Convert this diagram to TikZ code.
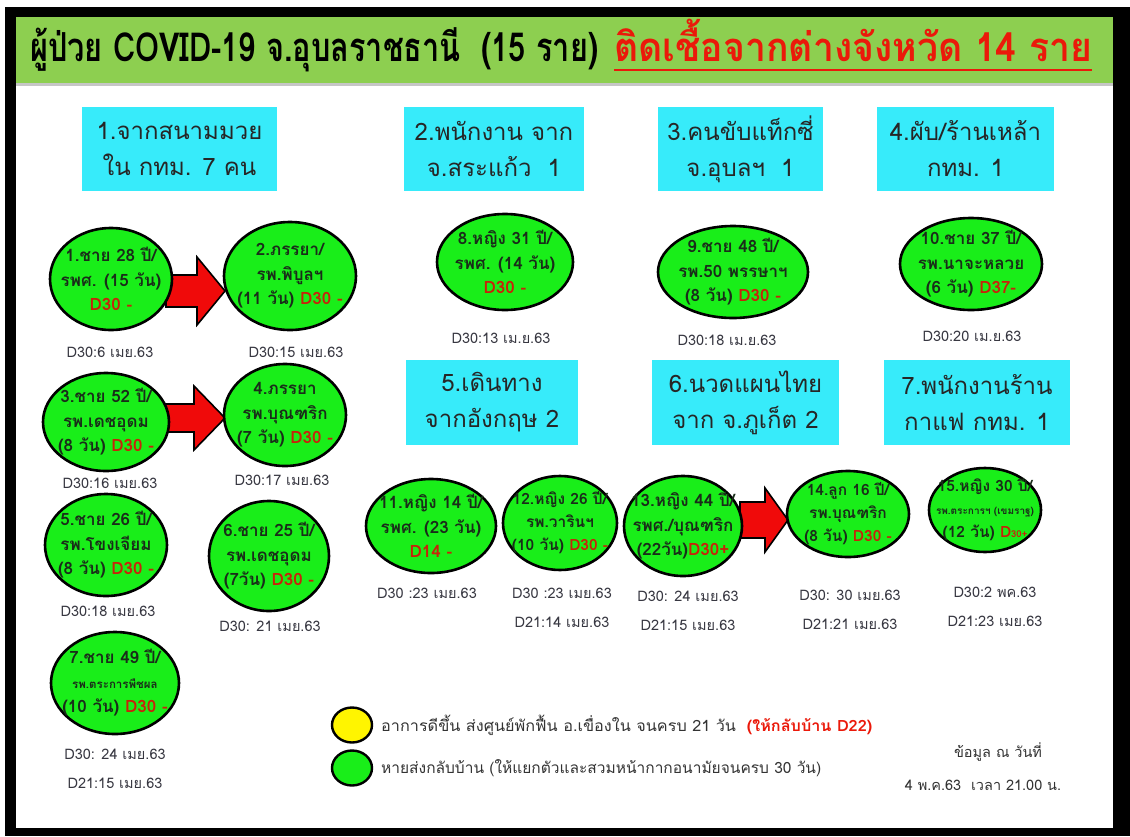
\documentclass[tikz,border=0pt]{standalone}
\usepackage{fontspec}
\usepackage{graphicx}
\setmainfont[Script=Thai]{Loma}
\usetikzlibrary{shapes.geometric,calc}
\definecolor{bandgreen}{RGB}{141,207,80}
\definecolor{boxcyan}{RGB}{55,235,250}
\definecolor{ptgreen}{RGB}{25,238,25}
\definecolor{arrred}{RGB}{240,10,10}
\definecolor{dred}{RGB}{200,35,10}
\definecolor{titlered}{RGB}{235,25,10}
\definecolor{lblgray}{RGB}{55,55,65}
\definecolor{pttext}{RGB}{25,45,25}
\definecolor{legyellow}{RGB}{255,245,0}
% #1 start coordinate, #2 length, #3 head length, #4 body half height, #5 head half height
\newcommand{\bigredarrow}[5]{\draw[redarr] (#1) ++(0,-#4) -- ++(#2-#3,0) -- ++(0,#4-#5) -- ++(#3,#5) -- ++(-#3,#5) -- ++(0,#4-#5) -- ++(#3-#2,0) -- cycle;}
\begin{document}
\begin{tikzpicture}[x=1pt,y=-1pt,
  cbox/.style={fill=boxcyan, draw=none, align=center, inner sep=0, font=\fontsize{24}{36}\selectfont, text=black!85},
  pt/.style={ellipse, draw=black, line width=2.6pt, fill=ptgreen, inner sep=0},
  pttxt/.style={align=center, inner sep=0, font=\fontsize{17}{24.5}\selectfont\bfseries, text=pttext},
  smalltxt/.style={font=\fontsize{15.5}{23}\selectfont\bfseries},
  lbl/.style={font=\fontsize{14.5}{29}\selectfont, text=lblgray, inner sep=0, align=center},
  redarr/.style={fill=arrred, draw=black, line width=1.6pt, line join=miter},
  legdot/.style={ellipse, draw=black, line width=2.4pt, minimum width=40, minimum height=35, inner sep=0},
  legtxt/.style={anchor=west, inner sep=0, font=\fontsize{15.5}{20}\selectfont, text=black!80}]
\useasboundingbox (0,0) rectangle (1130,836);
% frame
\fill[white] (0,0) rectangle (1130,836);
\fill[black] (5,7) rectangle (1130,836);
\fill[white] (16,17) rectangle (1113,828);
\fill[gray!45] (16,82) rectangle (1113,86);
\fill[bandgreen] (16,17) rectangle (1113,83);
% title
\node[anchor=base west, inner sep=0, font=\fontsize{40}{46}\selectfont\bfseries] (t1) at (30,61)
  {\resizebox{568pt}{\height}{ผู้ป่วย COVID-19 จ.อุบลราชธานี~ (15 ราย)}};
\node[anchor=base west, inner sep=0, font=\fontsize{40}{46}\selectfont\bfseries, text=titlered] (t2) at (614,61)
  {\resizebox{478pt}{\height}{ติดเชื้อจากต่างจังหวัด 14 ราย}};
\draw[titlered, line width=2.5pt] ($(t2.base west)+(0,9)$) -- ($(t2.base east)+(0,9)$);
% group boxes
\node[cbox, minimum width=195, minimum height=84] (b1) at (179.5,149) {1.จากสนามมวย\\ใน กทม. 7 คน};
\node[cbox, minimum width=180, minimum height=84] (b2) at (494,149) {2.พนักงาน จาก\\จ.สระแก้ว~ 1};
\node[cbox, minimum width=165, minimum height=84] (b3) at (740.5,149) {3.คนขับแท็กซี่\\จ.อุบลฯ~ 1};
\node[cbox, minimum width=177, minimum height=84] (b4) at (965.5,149) {4.ผับ/ร้านเหล้า\\กทม. 1};
\node[cbox, minimum width=172, minimum height=85] (b5) at (492,402.5) {5.เดินทาง\\จากอังกฤษ 2};
\node[cbox, minimum width=187, minimum height=85] (b6) at (745.5,402.5) {6.นวดแผนไทย\\จาก จ.ภูเก็ต 2};
\node[cbox, minimum width=186, minimum height=85] (b7) at (977,402.5) {7.พนักงานร้าน\\กาแฟ กทม. 1};
% arrows (drawn first, tails hidden under the source ellipse)
\coordinate (a1s) at (166,291);
\coordinate (a2s) at (164,418);
\coordinate (a3s) at (740,520);
\bigredarrow{a1s}{59}{28}{16}{34}
\bigredarrow{a2s}{61}{31}{14}{32}
\bigredarrow{a3s}{48}{23}{18}{32}
% patients
\node[pt, minimum width=122, minimum height=102] (e1) at (111,279) {};
\node[pt, minimum width=132, minimum height=108] (e2) at (290,276) {};
\node[pt, minimum width=136, minimum height=96] (e8) at (505,262) {};
\node[pt, minimum width=150, minimum height=92] (e9) at (733,272) {};
\node[pt, minimum width=142, minimum height=92] (e10) at (971,264) {};
\node[pt, minimum width=126, minimum height=98] (e3) at (106,422) {};
\node[pt, minimum width=122, minimum height=102] (e4) at (285,415) {};
\node[pt, minimum width=122, minimum height=102] (e5) at (106,545) {};
\node[pt, minimum width=120, minimum height=110] (e6) at (269,556) {};
\node[pt, minimum width=128, minimum height=102] (e7) at (115,683) {};
\node[pt, minimum width=130, minimum height=94] (e11) at (431,526) {};
\node[pt, minimum width=114, minimum height=94] (e12) at (560,523) {};
\node[pt, minimum width=118, minimum height=100] (e13) at (683,526) {};
\node[pt, minimum width=122, minimum height=86] (e14) at (848,514) {};
\node[pt, minimum width=112, minimum height=84] (e15) at (985,510) {};
\node[pttxt] (e1t) at (e1) {1.ชาย 28 ปี/\\รพศ. (15 วัน)\\\textcolor{dred}{D30 -}};
\node[pttxt] (e2t) at (e2) {2.ภรรยา/\\รพ.พิบูลฯ\\(11 วัน) \textcolor{dred}{D30 -}};
\node[pttxt] (e8t) at (e8) {8.หญิง 31 ปี/\\รพศ. (14 วัน)\\\textcolor{dred}{D30 -}};
\node[pttxt] (e9t) at (e9) {9.ชาย 48 ปี/\\รพ.50 พรรษาฯ\\(8 วัน) \textcolor{dred}{D30 -}};
\node[pttxt] (e10t) at (e10) {10.ชาย 37 ปี/\\รพ.นาจะหลวย\\(6 วัน) \textcolor{dred}{D37-}};
\node[pttxt] (e3t) at (e3) {3.ชาย 52 ปี/\\รพ.เดชอุดม\\(8 วัน) \textcolor{dred}{D30 -}};
\node[pttxt] (e4t) at (e4) {4.ภรรยา\\รพ.บุณฑริก\\(7 วัน) \textcolor{dred}{D30 -}};
\node[pttxt] (e5t) at (e5) {5.ชาย 26 ปี/\\รพ.โขงเจียม\\(8 วัน) \textcolor{dred}{D30 -}};
\node[pttxt] (e6t) at (e6) {6.ชาย 25 ปี/\\รพ.เดชอุดม\\(7วัน) \textcolor{dred}{D30 -}};
\node[pttxt] (e7t) at (e7) {7.ชาย 49 ปี/\\{\fontsize{11.5}{14}\selectfont รพ.ตระการพืชผล}\\(10 วัน) \textcolor{dred}{D30 -}};
\node[pttxt] (e11t) at (e11) {11.หญิง 14 ปี/\\รพศ. (23 วัน)\\\textcolor{dred}{D14 -}};
\node[pttxt, smalltxt] (e12t) at (e12) {12.หญิง 26 ปี/\\รพ.วารินฯ\\(10 วัน) \textcolor{dred}{D30 -}};
\node[pttxt] (e13t) at (e13) {13.หญิง 44 ปี/\\รพศ./บุณฑริก\\(22วัน)\textcolor{dred}{D30+}};
\node[pttxt, smalltxt] (e14t) at (e14) {14.ลูก 16 ปี/\\รพ.บุณฑริก\\(8 วัน) \textcolor{dred}{D30 -}};
\node[pttxt, smalltxt] (e15t) at (e15) {15.หญิง 30 ปี/\\{\fontsize{10}{14}\selectfont รพ.ตระการฯ (เขมราฐ)}\\(12 วัน) \textcolor{dred}{D{\fontsize{9.5}{14}\selectfont 30+}}};
% date labels
\node[lbl] (l1) at (110,352) {D30:6 เมย.63};
\node[lbl] (l2) at (296,352) {D30:15 เมย.63};
\node[lbl] (l8) at (501,338) {D30:13 เม.ย.63};
\node[lbl] (l9) at (727,340) {D30:18 เม.ย.63};
\node[lbl] (l10) at (972,336) {D30:20 เม.ย.63};
\node[lbl] (l3) at (110,483) {D30:16 เมย.63};
\node[lbl] (l4) at (282,480) {D30:17 เมย.63};
\node[lbl] (l5) at (108,611) {D30:18 เมย.63};
\node[lbl] (l6) at (270,626) {D30: 21 เมย.63};
\node[lbl] (l7) at (115,769) {D30: 24 เมย.63\\D21:15 เมย.63};
\node[lbl] (l11) at (427,593) {D30 :23 เมย.63};
\node[lbl] (l12) at (562,607.5) {D30 :23 เมย.63\\D21:14 เมย.63};
\node[lbl] (l13) at (688,611) {D30: 24 เมย.63\\D21:15 เมย.63};
\node[lbl] (l14) at (850,610) {D30: 30 เมย.63\\D21:21 เมย.63};
\node[lbl] (l15) at (995,607) {D30:2 พค.63\\D21:23 เมย.63};
% legend
\node[legdot, fill=legyellow] (ly) at (352,725) {};
\node[legdot, fill=ptgreen] (lg) at (352,768) {};
\node[legtxt] (lyt) at (381,725) {\resizebox{491pt}{\height}{อาการดีขึ้น ส่งศูนย์พักฟื้น อ.เขื่องใน จนครบ 21 วัน~ \textcolor{titlered}{\bfseries (ให้กลับบ้าน D22)}}};
\node[legtxt] (lgt) at (381,768) {\resizebox{440pt}{\height}{หายส่งกลับบ้าน (ให้แยกตัวและสวมหน้ากากอนามัยจนครบ 30 วัน)}};
% data date
\node[inner sep=0, font=\fontsize{14.5}{20}\selectfont, text=black!80] (d1) at (998,752) {ข้อมูล ณ วันที่};
\node[inner sep=0, font=\fontsize{14.5}{20}\selectfont, text=black!80] (d2) at (983,785) {4 พ.ค.63~ เวลา 21.00 น.};
\end{tikzpicture}
\end{document}
